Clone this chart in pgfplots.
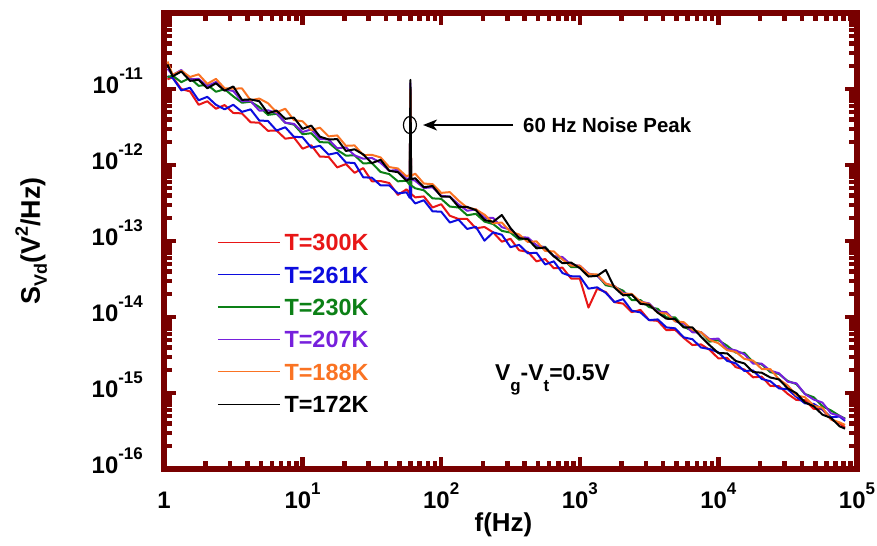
\documentclass[border=0pt]{standalone}
\usepackage{fontspec}
\setmainfont{Liberation Sans}
\usepackage{pgfplots}
\usepackage{pgfplotstable}
\pgfplotsset{compat=1.18}
\usetikzlibrary{arrows.meta}
\definecolor{frame}{RGB}{120,0,0}
\definecolor{cR}{RGB}{232,22,22}
\definecolor{cB}{RGB}{12,12,222}
\definecolor{cG}{RGB}{12,128,22}
\definecolor{cP}{RGB}{118,32,220}
\definecolor{cO}{RGB}{250,115,35}
\newcommand\tl[1]{10\raisebox{14bp}{\fontsize{17}{17}\selectfont #1}}

\pgfplotstableread{
f r b g p o k
1.06 1.34e-11 1.47e-11 1.43e-11 1.85e-11 2.3e-11 2.1e-11
1.155 1.43e-11 1.40e-11 1.50e-11 1.53e-11 1.53e-11 1.47e-11
1.334 1.00e-11 9.6e-12 1.23e-11 1.78e-11 1.74e-11 1.70e-11
1.540 9.3e-12 1.04e-11 1.40e-11 1.34e-11 1.44e-11 1.28e-11
1.778 6.2e-12 7.1e-12 1.10e-11 1.36e-11 1.56e-11 1.32e-11
2.054 6.9e-12 7.9e-12 1.14e-11 1.09e-11 1.17e-11 1.02e-11
2.371 5.5e-12 6.2e-12 9.2e-12 1.24e-11 1.36e-11 1.19e-11
2.738 6.15e-12 5.4e-12 9.95e-12 9.95e-12 1.02e-11 9.5e-12
3.162 4.84e-12 6.2e-12 8.0e-12 9.4e-12 1.01e-11 1.08e-11
3.652 4.78e-12 5.0e-12 6.6e-12 6.9e-12 1.02e-11 7.2e-12
4.217 3.65e-12 5.4e-12 6.8e-12 6.95e-12 7.1e-12 7.3e-12
4.870 3.6e-12 3.85e-12 5.8e-12 5.2e-12 7.5e-12 6.9e-12
5.623 2.82e-12 3.8e-12 4.57e-12 5.25e-12 6.5e-12 4.8e-12
6.494 2.84e-12 2.84e-12 4.72e-12 4.83e-12 4.94e-12 5.2e-12
7.499 2.22e-12 3.14e-12 3.6e-12 3.6e-12 5.5e-12 4.05e-12
8.660 2.30e-12 2.35e-12 3.4e-12 3.48e-12 3.9e-12 4.2e-12
10 1.64e-12 2.32e-12 2.54e-12 2.72e-12 3.76e-12 2.99e-12
11.55 1.82e-12 1.69e-12 2.62e-12 2.94e-12 2.88e-12 3.3e-12
13.34 1.29e-12 1.79e-12 2.0e-12 2.2e-12 3.1e-12 2.36e-12
15.40 1.28e-12 1.37e-12 1.98e-12 2.17e-12 2.38e-12 2.17e-12
17.78 9.3e-13 1.45e-12 1.58e-12 1.66e-12 2.45e-12 2.19e-12
20.54 1.03e-12 1.08e-12 1.33e-12 1.71e-12 1.79e-12 1.53e-12
23.71 7.9e-13 1.06e-12 1.34e-12 1.34e-12 1.81e-12 1.61e-12
27.38 9.1e-13 6.9e-13 1.05e-12 1.21e-12 1.35e-12 1.38e-12
31.62 6.1e-13 6.8e-13 1.06e-12 1.24e-12 1.36e-12 1.06e-12
36.52 6.15e-13 5.4e-13 8.1e-13 1.07e-12 1.26e-12 1.17e-12
42.17 5.8e-13 5.4e-13 7.6e-13 8.4e-13 9.4e-13 8.4e-13
48.70 4.04e-13 4.23e-13 6.1e-13 8.6e-13 9.0e-13 8.05e-13
56.23 4.79e-13 4.37e-13 6.2e-13 6.6e-13 7.1e-13 6.2e-13
59.3 4.26e-13 3.7e-13 5.5e-13 6.6e-13 7.4e-13 6.6e-13
60 7.1e-12 7.9e-12 8.9e-12 1.2e-11 1.0e-11 1.32e-11
60.7 4.17e-13 3.63e-13 5.4e-13 6.5e-13 7.2e-13 6.5e-13
64.94 3.75e-13 3.12e-13 4.94e-13 6.2e-13 7.7e-13 6.7e-13
74.99 3.86e-13 3.44e-13 4.65e-13 4.98e-13 5.7e-13 5.1e-13
86.60 2.76e-13 2.46e-13 3.64e-13 5.1e-13 5.6e-13 5.3e-13
100 3.05e-13 2.43e-13 3.59e-13 3.94e-13 4.3e-13 3.85e-13
115.5 2.15e-13 1.75e-13 2.84e-13 3.83e-13 4.4e-13 3.83e-13
133.4 1.95e-13 1.91e-13 2.76e-13 3.03e-13 3.4e-13 2.82e-13
154.0 1.95e-13 1.44e-13 2.18e-13 2.5e-13 2.75e-13 2.81e-13
177.8 1.47e-13 1.54e-13 2.28e-13 2.61e-13 2.61e-13 2.55e-13
205.4 1.53e-13 1.01e-13 1.80e-13 2.02e-13 2.22e-13 1.89e-13
237.1 1.30e-13 1.30e-13 1.67e-13 2.01e-13 1.71e-13 1.79e-13
273.8 9.8e-14 1.21e-13 1.36e-13 1.52e-13 1.75e-13 2.2e-13
316.2 1.07e-13 8.3e-14 1.29e-13 1.41e-13 1.32e-13 1.48e-13
365.2 7.55e-14 8.9e-14 1.04e-13 1.12e-13 1.22e-13 1.09e-13
421.7 7.2e-14 6.9e-14 1.09e-13 1.11e-13 9.7e-14 1.06e-13
487.0 5.4e-14 7.0e-14 8.4e-14 8.8e-14 9.9e-14 8.0e-14
562.3 5.8e-14 4.92e-14 8.4e-14 8.2e-14 7.4e-14 8.2e-14
649.4 4.38e-14 5.4e-14 6.3e-14 6.3e-14 7.3e-14 6.3e-14
749.9 4.46e-14 3.79e-14 5.9e-14 6.15e-14 5.7e-14 5.1e-14
866.0 3.21e-14 3.44e-14 4.54e-14 4.86e-14 4.75e-14 5.2e-14
1000 3.2e-14 3.43e-14 4.52e-14 4.73e-14 4.73e-14 4.4e-14
1155 1.33e-14 2.36e-14 3.66e-14 3.74e-14 3.66e-14 3.41e-14
1334 2.35e-14 2.46e-14 3.56e-14 3.48e-14 3.64e-14 3.48e-14
1540 2.13e-14 2.08e-14 2.62e-14 2.75e-14 2.75e-14 4.16e-14
1778 1.57e-14 1.57e-14 2.49e-14 2.55e-14 2.55e-14 2.44e-14
2054 1.50e-14 1.72e-14 2.22e-14 2.07e-14 2.02e-14 1.93e-14
2371 1.16e-14 1.21e-14 1.67e-14 1.97e-14 2.01e-14 1.97e-14
2738 1.24e-14 1.15e-14 1.67e-14 1.59e-14 1.59e-14 1.49e-14
3162 9.1e-15 9.1e-15 1.35e-14 1.51e-14 1.48e-14 1.45e-14
3652 8.9e-15 9.3e-15 1.28e-14 1.17e-14 1.14e-14 1.14e-14
4217 6.7e-15 7.3e-15 9.9e-15 1.16e-14 1.11e-14 9.5e-15
4870 6.8e-15 7.1e-15 9.9e-15 8.8e-15 8.8e-15 9.4e-15
5623 5.3e-15 5.4e-15 7.4e-15 8.2e-15 8.55e-15 7.3e-15
6494 4.28e-15 5.1e-15 6.6e-15 6.3e-15 6.8e-15 7.3e-15
7499 4.36e-15 3.97e-15 6.3e-15 6.3e-15 6.3e-15 5.5e-15
8660 3.69e-15 3.78e-15 4.75e-15 5.1e-15 4.98e-15 4.24e-15
10000 2.85e-15 3.43e-15 4.95e-15 5.2e-15 4.52e-15 3.35e-15
11550 2.9e-15 2.65e-15 4.2e-15 3.83e-15 3.66e-15 3.33e-15
13340 2.19e-15 2.46e-15 3.4e-15 3.64e-15 3.48e-15 2.64e-15
15400 2.04e-15 1.95e-15 3.38e-15 3.23e-15 2.81e-15 2.45e-15
17780 1.61e-15 1.98e-15 2.55e-15 2.44e-15 2.67e-15 1.89e-15
20540 1.64e-15 1.53e-15 2.38e-15 2.43e-15 2.07e-15 1.85e-15
23710 1.24e-15 1.43e-15 1.88e-15 1.97e-15 2.06e-15 1.60e-15
27380 1.23e-15 1.15e-15 1.78e-15 1.82e-15 1.51e-15 1.51e-15
31620 9.75e-16 1.12e-15 1.44e-15 1.41e-15 1.26e-15 1.15e-15
36520 8.1e-16 8.9e-16 1.31e-15 1.34e-15 9.3e-16 9.95e-16
42170 8.05e-16 7.3e-16 9.7e-16 9.7e-16 8.8e-16 7.5e-16
48700 6.2e-16 7.2e-16 8.8e-16 8.2e-16 6.8e-16 6.7e-16
56230 6.1e-16 6.1e-16 6.7e-16 7.5e-16 6.4e-16 5.2e-16
64940 4.5e-16 4.8e-16 5.9e-16 5.4e-16 4.5e-16 4.7e-16
74990 3.99e-16 4.9e-16 5.0e-16 5.0e-16 4.1e-16 3.64e-16
82000 3.5e-16 4.3e-16 4.6e-16 4.5e-16 3.8e-16 3.4e-16
}\data

\begin{document}
\begin{tikzpicture}
\begin{axis}[
  name=ax,
  scale only axis,
  width=693bp, height=456bp,
  xmode=log, ymode=log,
  xmin=1, xmax=1e5, ymin=1e-16, ymax=1e-10,
  xtick={1,10,100,1000,10000,100000},
  xticklabels={1,\tl{1},\tl{2},\tl{3},\tl{4},\tl{5}},
  ytick={1e-16,1e-15,1e-14,1e-13,1e-12,1e-11,1e-10},
  yticklabels={\tl{-16},\tl{-15},\tl{-14},\tl{-13},\tl{-12},\tl{-11},{}},
  minor xtick={2,3,4,5,6,7,8,9,20,30,40,50,60,70,80,90,200,300,400,500,600,700,800,900,2000,3000,4000,5000,6000,7000,8000,9000,20000,30000,40000,50000,60000,70000,80000,90000},
  minor ytick={2e-16,3e-16,4e-16,5e-16,6e-16,7e-16,8e-16,9e-16,2e-15,3e-15,4e-15,5e-15,6e-15,7e-15,8e-15,9e-15,2e-14,3e-14,4e-14,5e-14,6e-14,7e-14,8e-14,9e-14,2e-13,3e-13,4e-13,5e-13,6e-13,7e-13,8e-13,9e-13,2e-12,3e-12,4e-12,5e-12,6e-12,7e-12,8e-12,9e-12,2e-11,3e-11,4e-11,5e-11,6e-11,7e-11,8e-11,9e-11},
  tick align=inside, tickpos=both,
  major tick length=12.5bp, minor tick length=8bp,
  every tick/.style={draw=frame, line width=4.5bp},
  axis line style={draw=frame, line width=5.5bp, line cap=rect},
  every tick label/.append style={inner sep=0pt, font=\fontsize{24}{24}\selectfont\bfseries},
  xticklabel style={anchor=base, yshift=-39bp},
  yticklabel style={anchor=base east, xshift=-21bp, yshift=-4bp},
  every axis x label/.style={at={(rel axis cs:0.5,0)}, anchor=base, yshift=-62bp, xshift=-7bp, inner sep=0pt, font=\fontsize{26}{26}\selectfont\bfseries},
  every axis y label/.style={at={(rel axis cs:0,0.5)}, xshift=-124bp, rotate=90, anchor=base, inner sep=0pt, font=\fontsize{27}{27}\selectfont\bfseries},
  xlabel={f(Hz)},
  ylabel={S\raisebox{-7bp}{\fontsize{18}{18}\selectfont Vd}(V\raisebox{12bp}{\fontsize{18}{18}\selectfont 2}/Hz)},
  legend style={at={(0.0765,0.5164)}, anchor=north west, draw=none, fill=none, inner sep=0pt, row sep=15.4bp, column sep=4bp, font=\fontsize{23.5}{23.5}\selectfont\bfseries, nodes={inner sep=0pt, text height=17bp, text depth=0bp}},
  legend cell align=left,
  legend image code/.code={\draw[#1, line width=1.3bp] (0bp,0bp) -- (62bp,0bp);},
  every axis plot/.append style={line width=2bp, line join=round},
]
\addplot[cR] table[x=f, y=r] {\data};
\addlegendentry{\textcolor{cR}{T=300K}}
\addplot[cB] table[x=f, y=b] {\data};
\addlegendentry{\textcolor{cB}{T=261K}}
\addplot[cG] table[x=f, y=g] {\data};
\addlegendentry{\textcolor{cG}{T=230K}}
\addplot[cP] table[x=f, y=p] {\data};
\addlegendentry{\textcolor{cP}{T=207K}}
\addplot[cO] table[x=f, y=o] {\data};
\addlegendentry{\textcolor{cO}{T=188K}}
\addplot[black] table[x=f, y=k] {\data};
\addlegendentry{T=172K}

\draw[line width=1.2bp] (axis cs:59.5,3.36e-12) ellipse [x radius=6.5bp, y radius=8.5bp];
\draw[line width=1.3bp, -{Stealth[length=14bp, width=11bp, inset=4bp]}] (axis cs:330,3.36e-12) -- (axis cs:74,3.36e-12);
\node[anchor=west, inner sep=0pt, font=\fontsize{20.5}{20.5}\selectfont\bfseries] at (axis cs:389,3.36e-12) {60 Hz Noise Peak};
\node[anchor=base west, inner sep=0pt, font=\fontsize{23}{23}\selectfont\bfseries] at (axis cs:244,1.48e-15) {V\raisebox{-11bp}{\fontsize{17}{17}\selectfont g}-V\raisebox{-11bp}{\fontsize{17}{17}\selectfont t}=0.5V};
\end{axis}
\pgfresetboundingbox
\path (-164bp,-77bp) rectangle (713bp,469bp);
\end{tikzpicture}
\end{document}
